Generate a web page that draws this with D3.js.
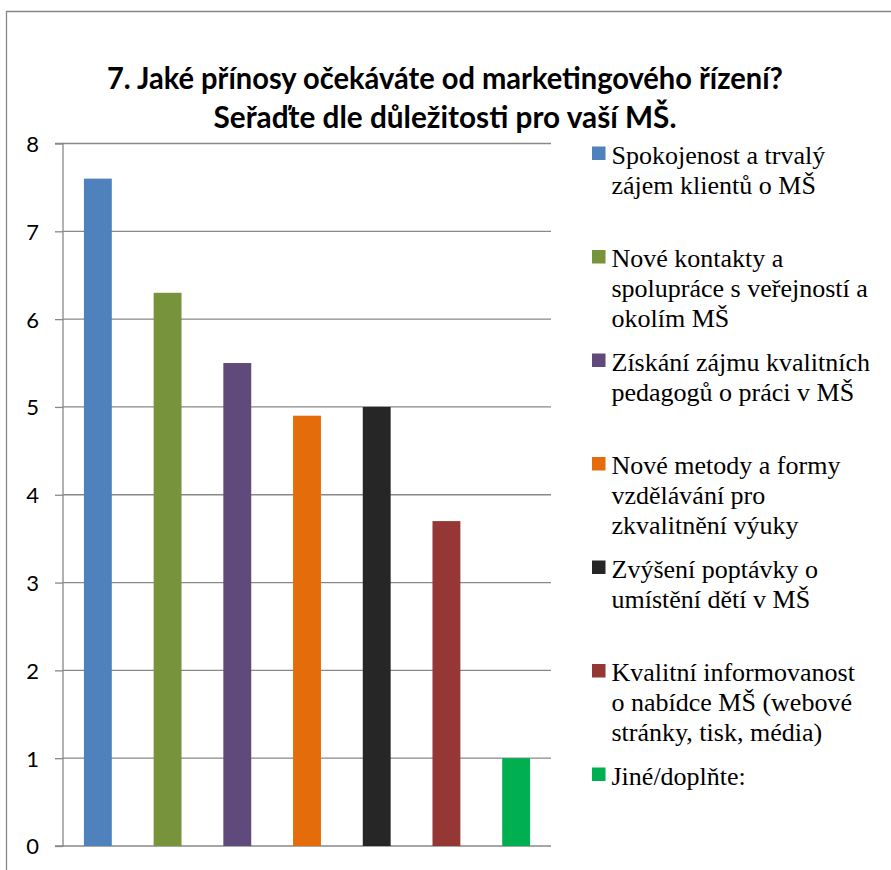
<!DOCTYPE html>
<html>
<head>
<meta charset="utf-8">
<script src="https://cdn.jsdelivr.net/npm/d3@7"></script>
<style>
  html, body { margin: 0; padding: 0; background: #fff; }
  svg { display: block; }
  .legend text { font-family: "Liberation Serif", "DejaVu Serif", serif; }
  .title text, .yaxis text { font-family: Lato, "Open Sans", "Liberation Sans", sans-serif; }
</style>
</head>
<body>
<div id="chart"></div>
<script>
// ---- data ----
const titleLines = [
  "7. Jaké přínosy očekáváte od marketingového řízení?",
  "Seřaďte dle důležitosti pro vaší MŠ."
];
const categories = [
  "Spokojenost a trvalý zájem klientů o MŠ",
  "Nové kontakty a spolupráce s veřejností a okolím MŠ",
  "Získání zájmu kvalitních pedagogů o práci v MŠ",
  "Nové metody a formy vzdělávání pro zkvalitnění výuky",
  "Zvýšení poptávky o umístění dětí v MŠ",
  "Kvalitní informovanost o nabídce MŠ (webové stránky, tisk, média)",
  "Jiné/doplňte:"
];
const legendLines = [
  ["Spokojenost a trvalý", "zájem klientů o MŠ"],
  ["Nové kontakty a", "spolupráce s veřejností a", "okolím MŠ"],
  ["Získání zájmu kvalitních", "pedagogů o práci v MŠ"],
  ["Nové metody a formy", "vzdělávání pro", "zkvalitnění výuky"],
  ["Zvýšení poptávky o", "umístění dětí v MŠ"],
  ["Kvalitní informovanost", "o nabídce MŠ (webové", "stránky, tisk, média)"],
  ["Jiné/doplňte:"]
];
const values = [7.6, 6.3, 5.5, 4.9, 5.0, 3.7, 1.0];
const colors = ["#4F81BD", "#77933C", "#604A7B", "#E46C0A", "#262626", "#953735", "#00B050"];
const yTicks = [0, 1, 2, 3, 4, 5, 6, 7, 8];

// ---- layout ----
const W = 891, H = 870;
const plot = { left: 63, right: 551, top: 143.5, bottom: 846 };

const svg = d3.select("#chart").append("svg")
  .attr("width", W).attr("height", H);

svg.append("rect").attr("width", W).attr("height", H).attr("fill", "#fff");

// outer chart border (only top & left visible)
svg.append("path")
  .attr("d", `M6.5,${H + 2} L6.5,11.5 L${W + 2},11.5`)
  .attr("fill", "none").attr("stroke", "#868686").attr("stroke-width", 1.3);

// title
const titleY = [89, 128];
const titleW = [676, 463];
const tg = svg.append("g").attr("class", "title");
titleLines.forEach((t, i) => {
  tg.append("text")
    .attr("x", 445).attr("y", titleY[i])
    .attr("text-anchor", "middle")
    .attr("font-weight", 700)
    .attr("font-size", 31)
    .attr("fill", "#000")
    .attr("textLength", titleW[i])
    .attr("lengthAdjust", "spacingAndGlyphs")
    .text(t);
});

// scales
const x = d3.scaleBand()
  .domain(categories)
  .range([plot.left, plot.right])
  .paddingInner(0.6)
  .paddingOuter(0.3);

const y = d3.scaleLinear()
  .domain([0, 8])
  .range([plot.bottom, plot.top]);

// gridlines
svg.append("g")
  .selectAll("line")
  .data(yTicks)
  .join("line")
  .attr("x1", plot.left).attr("x2", plot.right)
  .attr("y1", d => y(d)).attr("y2", d => y(d))
  .attr("stroke", "#888").attr("stroke-width", 1.3);

// y axis
const yAxis = d3.axisLeft(y)
  .tickValues(yTicks)
  .tickSize(8)
  .tickPadding(16)
  .tickFormat(d3.format("d"));

const yg = svg.append("g")
  .attr("class", "yaxis")
  .attr("transform", `translate(${plot.left},0)`)
  .call(yAxis);
yg.attr("font-family", null);
yg.select(".domain").attr("stroke", "#888").attr("stroke-width", 1.3)
  .attr("d", `M-8,${plot.bottom}H0V${plot.top}H-8`);
yg.selectAll(".tick line").attr("stroke", "#888").attr("stroke-width", 1.3);
yg.selectAll(".tick text")
  .attr("font-size", 22)
  .attr("fill", "#000")
  .attr("dy", "0.36em");

// bars
svg.append("g")
  .selectAll("rect")
  .data(values)
  .join("rect")
  .attr("x", (d, i) => x(categories[i]))
  .attr("width", x.bandwidth())
  .attr("y", d => y(d))
  .attr("height", d => y(0) - y(d))
  .attr("fill", (d, i) => colors[i]);

// legend
const lg = svg.append("g").attr("class", "legend");
const firstBaseline = 163.5, entryStep = 103.5, lineH = 30;
legendLines.forEach((lines, i) => {
  const by = firstBaseline + i * entryStep;
  lg.append("rect")
    .attr("x", 592).attr("y", by - 17)
    .attr("width", 13.5).attr("height", 13.5)
    .attr("fill", colors[i]);
  const t = lg.append("text")
    .attr("x", 611.5).attr("y", by)
    .attr("font-size", 26)
    .attr("fill", "#000");
  lines.forEach((l, j) => {
    t.append("tspan").attr("x", 611.5).attr("y", by + j * lineH).text(l);
  });
});
</script>
</body>
</html>
